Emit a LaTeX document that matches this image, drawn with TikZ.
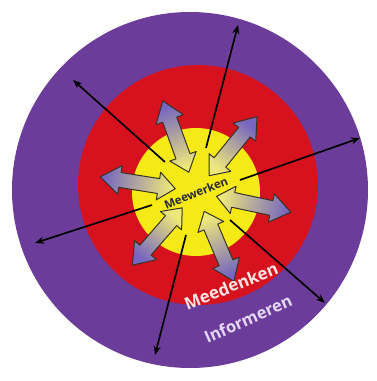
\documentclass[tikz,border=0pt]{standalone}
\usepackage{fontspec}
\setmainfont{Open Sans}
\usetikzlibrary{calc,arrows.meta}
\definecolor{purp}{RGB}{107,60,154}
\definecolor{redc}{RGB}{214,18,30}
\definecolor{yel}{RGB}{246,234,22}
\definecolor{arrin}{RGB}{238,232,122}
\definecolor{arrout}{RGB}{118,102,192}
\definecolor{arrline}{RGB}{55,52,35}
\definecolor{txtdark}{RGB}{40,40,52}
\definecolor{txtpink}{RGB}{251,228,226}
\definecolor{txtlav}{RGB}{228,216,244}
\tikzset{
  fatarrow/.style={draw=arrline, line width=1pt, line join=round, top color=arrout, bottom color=arrin},
  conn/.style={draw=black, line width=1.7pt, -{Stealth[length=9pt,width=7pt]}},
  lbl/.style={font=\bfseries, inner sep=0pt}
}
\begin{document}
\begin{tikzpicture}[x=1pt,y=1pt]
\useasboundingbox (0,0) rectangle (376,381);
\fill[white] (0,0) rectangle (376,381);
% rings
\fill[purp] (190,191) circle (178);
\fill[redc] (198,196) circle (120);
\fill[yel] (196,189) circle (64);
\coordinate (o) at (196,189);
% fat double arrows
\foreach \a in {51,110,171,229,293,348}{
  \pgfmathsetmacro\sa{\a-90}
  \path[fatarrow, shading angle=\sa]
    ($(o)+(\a:21)$) --
    ($(o)+(\a:38)+(\a+90:14)$) --
    ($(o)+(\a:38)+(\a+90:7.5)$) --
    ($(o)+(\a:77)+(\a+90:7.5)$) --
    ($(o)+(\a:77)+(\a+90:14.5)$) --
    ($(o)+(\a:97)$) --
    ($(o)+(\a:77)+(\a-90:14.5)$) --
    ($(o)+(\a:77)+(\a-90:7.5)$) --
    ($(o)+(\a:38)+(\a-90:7.5)$) --
    ($(o)+(\a:38)+(\a-90:14)$) -- cycle;
}
% black connectors
\coordinate (a1) at (165,219); \coordinate (a1e) at (73,301);
\coordinate (a2) at (230,161); \coordinate (a2e) at (325,78);
\coordinate (b1) at (206,233); \coordinate (b1e) at (238,356);
\coordinate (b2) at (186,146); \coordinate (b2e) at (155,26);
\coordinate (c1) at (240,201); \coordinate (c1e) at (360,243);
\coordinate (c2) at (152,176); \coordinate (c2e) at (35,138);
\draw[conn] (a1) -- (a1e);
\draw[conn] (a2) -- (a2e);
\draw[conn] (b1) -- (b1e);
\draw[conn] (b2) -- (b2e);
\draw[conn] (c1) -- (c1e);
\draw[conn] (c2) -- (c2e);
% labels
\node[lbl, text=txtdark, font=\bfseries\fontsize{11.5}{12}\selectfont, rotate=22] (mw) at (196,188) {Meewerken};
\node[lbl, text=txtpink, font=\bfseries\fontsize{17}{19}\selectfont, rotate=22] (md) at (231,95) {Meedenken};
\node[lbl, text=txtlav, font=\bfseries\fontsize{16.5}{19}\selectfont, rotate=24] (inf) at (248,62) {Informeren};
\end{tikzpicture}
\end{document}
